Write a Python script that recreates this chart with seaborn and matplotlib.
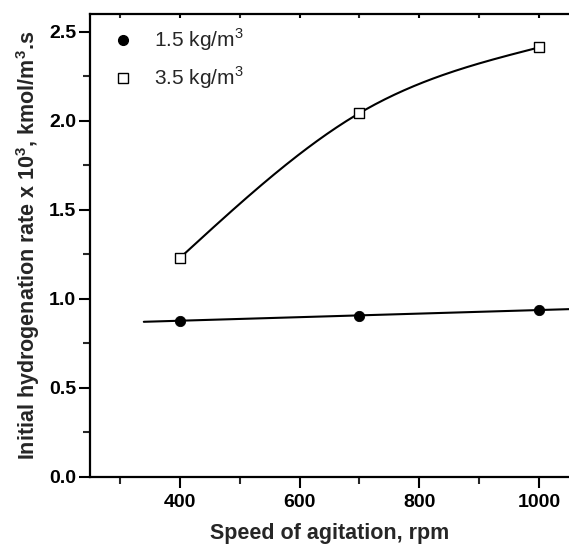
import numpy as np
import pandas as pd
import matplotlib
matplotlib.use("Agg")
import matplotlib.pyplot as plt
from matplotlib.ticker import MultipleLocator
from matplotlib.lines import Line2D
import seaborn as sns

speed = [400, 700, 1000]
rate_15 = [0.878, 0.906, 0.938]
rate_35 = [1.229, 2.043, 2.412]
labels = ["1.5 kg/m$^3$", "3.5 kg/m$^3$"]

sns.set_theme(style="ticks")
plt.rcParams["font.family"] = ["Liberation Sans", "DejaVu Sans"]
plt.rcParams["mathtext.fontset"] = "custom"
plt.rcParams["mathtext.rm"] = "Liberation Sans"
plt.rcParams["mathtext.bf"] = "Liberation Sans:bold"


def natural_spline(xk, yk, xs):
    xk = np.asarray(xk, float)
    yk = np.asarray(yk, float)
    n = len(xk)
    h = np.diff(xk)
    A = np.zeros((n, n))
    r = np.zeros(n)
    A[0, 0] = A[-1, -1] = 1
    for i in range(1, n - 1):
        A[i, i - 1] = h[i - 1]
        A[i, i] = 2 * (h[i - 1] + h[i])
        A[i, i + 1] = h[i]
        r[i] = 6 * ((yk[i + 1] - yk[i]) / h[i] - (yk[i] - yk[i - 1]) / h[i - 1])
    M = np.linalg.solve(A, r)
    out = np.empty_like(xs, dtype=float)
    for j, x in enumerate(xs):
        i = min(max(np.searchsorted(xk, x) - 1, 0), n - 2)
        a, b = xk[i], xk[i + 1]
        hh = b - a
        out[j] = (M[i] * (b - x) ** 3 / (6 * hh) + M[i + 1] * (x - a) ** 3 / (6 * hh)
                  + (yk[i] / hh - M[i] * hh / 6) * (b - x)
                  + (yk[i + 1] / hh - M[i + 1] * hh / 6) * (x - a))
    return out


fig = plt.figure(figsize=(5.69, 5.48), dpi=100)
ax = fig.add_axes([0.158, 0.1296, 0.842, 0.845])

# curves derived from the data
c1 = np.polyfit(speed, rate_15, 1)
x1 = np.linspace(340, 1050, 50)
x2 = np.linspace(400, 1000, 150)
fit1 = pd.DataFrame({"x": x1, "y": np.polyval(c1, x1)})
fit2 = pd.DataFrame({"x": x2, "y": natural_spline(speed, rate_35, x2)})
sns.lineplot(data=fit1, x="x", y="y", ax=ax, color="black", lw=1.5, sort=False)
sns.lineplot(data=fit2, x="x", y="y", ax=ax, color="black", lw=1.5, sort=False)

d1 = pd.DataFrame({"x": speed, "y": rate_15})
d2 = pd.DataFrame({"x": speed, "y": rate_35})
sns.scatterplot(data=d1, x="x", y="y", ax=ax, marker="o", s=55, color="black",
                edgecolor="black", zorder=5)
sns.scatterplot(data=d2, x="x", y="y", ax=ax, marker="s", s=50, facecolor="white",
                edgecolor="black", linewidth=1.0, zorder=5)

ax.set_xlim(250, 1050)
ax.set_ylim(0, 2.6)
ax.xaxis.set_major_locator(MultipleLocator(200))
ax.xaxis.set_minor_locator(MultipleLocator(100))
ax.yaxis.set_major_locator(MultipleLocator(0.5))
ax.yaxis.set_minor_locator(MultipleLocator(0.25))
ax.yaxis.set_major_formatter(matplotlib.ticker.FormatStrFormatter("%.1f"))

for s in ["left", "bottom", "top"]:
    ax.spines[s].set_linewidth(1.6)
    ax.spines[s].set_color("black")
ax.spines["right"].set_visible(False)

ax.tick_params(axis="both", which="major", direction="out", length=8, width=1.5,
               labelsize=14, colors="black", pad=4)
ax.tick_params(axis="y", which="major", pad=2)
ax.tick_params(axis="both", which="minor", direction="out", length=5, width=1.5)
ax.tick_params(axis="x", which="both", top=True)
for lab in ax.get_xticklabels() + ax.get_yticklabels():
    lab.set_fontweight("bold")
for t in ax.xaxis.get_major_ticks() + ax.xaxis.get_minor_ticks():
    t.tick2line.set_marker(matplotlib.markers.TICKDOWN)
    t.tick2line.set_markersize(3)

ax.set_xlabel("Speed of agitation, rpm", fontsize=15.5, fontweight="bold", labelpad=9)
ax.set_ylabel("Initial hydrogenation rate x 10$^\\mathbf{3}$, kmol/m$^\\mathbf{3}$.s",
              fontsize=15.5, fontweight="bold", labelpad=5)

handles = [Line2D([], [], marker="o", ls="none", color="black", markersize=7),
           Line2D([], [], marker="s", ls="none", markerfacecolor="white",
                  markeredgecolor="black", markersize=7, markeredgewidth=1.0)]
ax.legend(handles, labels, loc="upper left", frameon=False, fontsize=15,
          bbox_to_anchor=(0.0, 1.0), handletextpad=0.5, labelspacing=0.55,
          borderaxespad=0.2, borderpad=0.4)

fig.savefig("out.png", dpi=100)
